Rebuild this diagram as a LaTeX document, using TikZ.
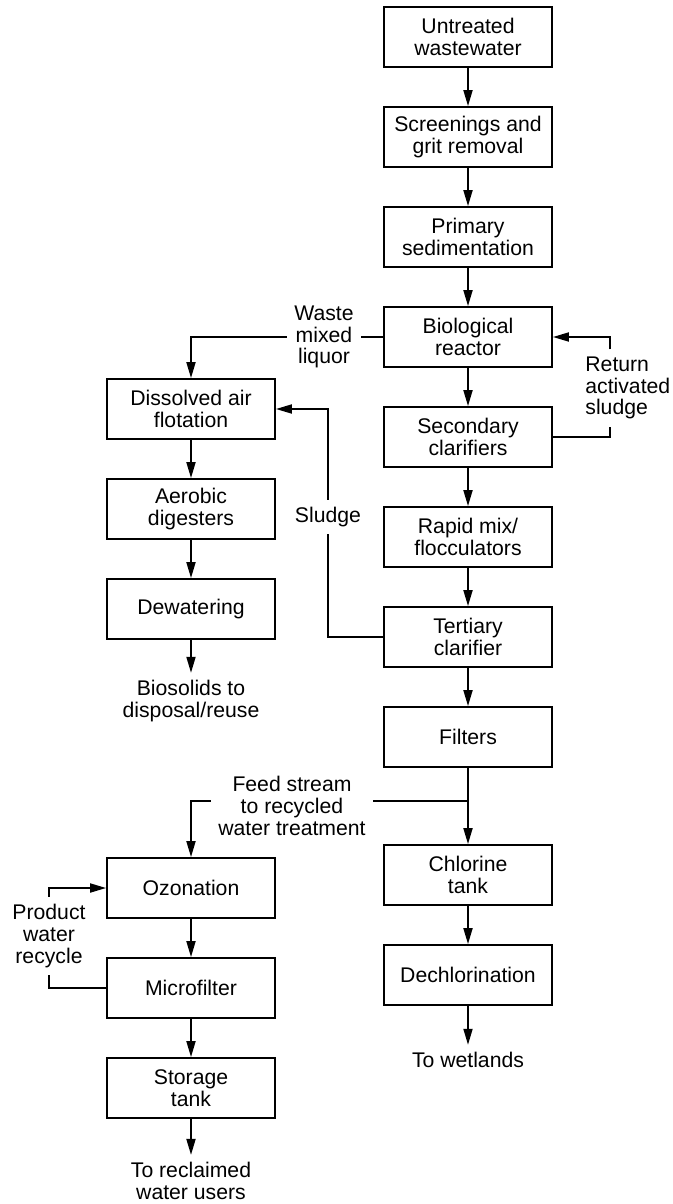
\documentclass[tikz,border=0pt]{standalone}
\usepackage{fontspec}
\setmainfont{Liberation Sans}
\usetikzlibrary{arrows.meta}
\newcommand{\flowfont}{\fontsize{10.6}{10.9}\selectfont}
\tikzset{
  unit/.style = {draw=black, line width=0.9pt, align=center, minimum width=84pt,
                 minimum height=30pt, inner sep=2pt, font=\flowfont},
  flow/.style = {-{Triangle[length=8pt, width=4.5pt]}, line width=0.9pt},
  pipe/.style = {line width=0.9pt},
  tag/.style  = {align=center, inner sep=3.5pt, font=\flowfont},
}

\begin{document}
\begin{tikzpicture}[x=0.5pt, y=-0.5pt]
  \useasboundingbox (0,0) rectangle (673,1204);

  % main treatment train
  \node[unit] (raw)    at (468,37)  {Untreated\\wastewater};
  \node[unit] (screen) at (468,137) {Screenings and\\grit removal};
  \node[unit] (prim)   at (468,237) {Primary\\sedimentation};
  \node[unit] (bio)    at (468,337) {Biological\\reactor};
  \node[unit] (sec)    at (468,437) {Secondary\\clarifiers};
  \node[unit] (mix)    at (468,537) {Rapid mix/\\flocculators};
  \node[unit] (ter)    at (468,637) {Tertiary\\clarifier};
  \node[unit] (filt)   at (468,737) {Filters};
  \node[unit] (chl)    at (468,875) {Chlorine\\tank};
  \node[unit] (dechl)  at (468,975) {Dechlorination};
  \node[tag]  (wet)    at (468,1060) {To wetlands};

  % solids line
  \node[unit] (daf)    at (191,409) {Dissolved air\\flotation};
  \node[unit] (aer)    at (191,509) {Aerobic\\digesters};
  \node[unit] (dew)    at (191,609) {Dewatering};
  \node[tag]  (bios)   at (191,701) {Biosolids to\\disposal/reuse};

  % recycled water line
  \node[unit] (ozo)    at (191,888)  {Ozonation};
  \node[unit] (mf)     at (191,988)  {Microfilter};
  \node[unit] (store)  at (191,1088) {Storage\\tank};
  \node[tag]  (users)  at (191,1181) {To reclaimed\\water users};

  % stream labels
  \node[tag] (waste)  at (324,337) {Waste\\mixed\\liquor};
  \node[tag, anchor=west, align=left] (ras) at (578,388) {Return\\activated\\sludge};
  \node[tag] (sludge) at (328,517) {Sludge};
  \node[tag] (feed)   at (292,806) {Feed stream\\to recycled\\water treatment};
  \node[tag] (prod)   at (49,936)  {Product\\water\\recycle};
  \coordinate (rasx) at (610,0);
  \coordinate (split) at (468,801);

  \foreach \a/\b in {raw/screen, screen/prim, prim/bio, bio/sec, sec/mix, mix/ter,
                     ter/filt, chl/dechl, dechl/wet, daf/aer, aer/dew, dew/bios,
                     ozo/mf, mf/store, store/users}
    \draw[flow] (\a) -- (\b);
  \draw[flow] (filt) -- (chl);

  \draw[pipe] (bio.west) -- (waste.east);
  \draw[flow] (waste.west) -| (daf.north);
  \draw[pipe] (sec.east) -| (ras.south -| rasx);
  \draw[flow] (ras.north -| rasx) |- (bio.east);
  \draw[pipe] (ter.west) -| (sludge.south);
  \draw[flow] (sludge.north) |- (daf.east);
  \draw[pipe] (split) -- (feed.east |- split);
  \draw[flow] (feed.west |- split) -| (ozo.north);
  \draw[pipe] (mf.west) -| (prod.south);
  \draw[flow] (prod.north) |- (ozo.west);
\end{tikzpicture}
\end{document}
